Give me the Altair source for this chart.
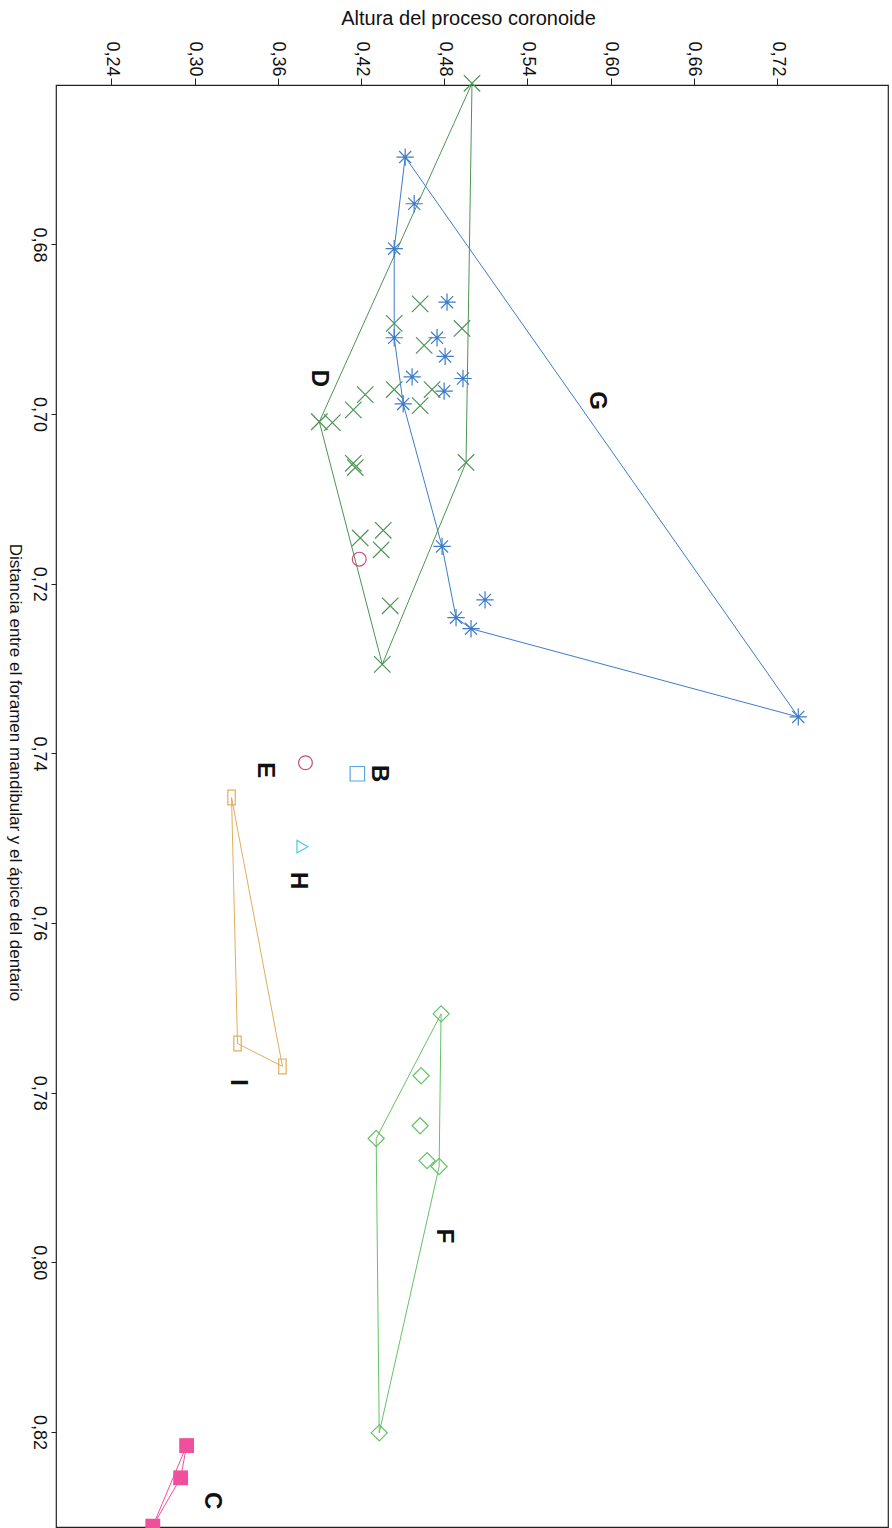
import altair as alt
import pandas as pd

# ---- data: altura del proceso coronoide (x) vs distancia foramen-ápice (y) ----
G_altura = [0.4518, 0.4583, 0.4439, 0.4820, 0.4439, 0.4748, 0.4806, 0.4568,
            0.4935, 0.4799, 0.4504, 0.4784, 0.5094, 0.4885, 0.4993, 0.7353]
G_dist = [0.6697, 0.6752, 0.6805, 0.6868, 0.6910, 0.6910, 0.6932, 0.6956,
          0.6958, 0.6973, 0.6988, 0.7156, 0.7219, 0.7240, 0.7253, 0.7357]
G_hull = [0, 15, 14, 13, 11, 10, 4, 2, 0]

D_altura = [0.5000, 0.4626, 0.4439, 0.4928, 0.4655, 0.4230, 0.4439, 0.4712,
            0.4626, 0.4144, 0.3899, 0.3993, 0.4144, 0.4158, 0.4957, 0.4194,
            0.4360, 0.4345, 0.4410, 0.4353]
D_dist = [0.6610, 0.6870, 0.6893, 0.6899, 0.6919, 0.6977, 0.6971, 0.6971,
          0.6990, 0.6995, 0.7009, 0.7010, 0.7058, 0.7063, 0.7057, 0.7146,
          0.7137, 0.7160, 0.7226, 0.7295]
D_hull = [0, 14, 19, 10, 0]

F_altura = [0.4777, 0.4633, 0.4626, 0.4309, 0.4676, 0.4763, 0.4331]
F_dist = [0.7707, 0.7780, 0.7839, 0.7854, 0.7880, 0.7887, 0.8201]
F_hull = [0, 5, 6, 3, 0]

I_altura = [0.3266, 0.3309, 0.3633]
I_dist = [0.7452, 0.7742, 0.7769]
I_hull = [0, 2, 1, 0]

C_altura = [0.2942, 0.2899, 0.2698]
C_dist = [0.8216, 0.8254, 0.8311]
C_hull = [0, 1, 2, 0]

E_altura = [0.4187, 0.3799]
E_dist = [0.7171, 0.7411]

B_altura = [0.4173]
B_dist = [0.7424]

H_altura = [0.3777]
H_dist = [0.7510]

# group letters and where they are written
label_text = ["G", "D", "B", "E", "H", "I", "F", "C"]
label_altura = [0.5899, 0.3899, 0.4331, 0.3504, 0.3748, 0.3309, 0.4799, 0.3122]
label_dist = [0.6984, 0.6958, 0.7424, 0.7420, 0.7550, 0.7788, 0.7969, 0.8281]

x_ticks = [0.24, 0.30, 0.36, 0.42, 0.48, 0.54, 0.60, 0.66, 0.72]
y_ticks = [0.68, 0.70, 0.72, 0.74, 0.76, 0.78, 0.80, 0.82]

# ---- marker glyphs ----
ASTER = "M-1,0L1,0M0,-1L0,1M-0.7,-0.7L0.7,0.7M-0.7,0.7L0.7,-0.7"
XMARK = "M-1,-1L1,1M-1,1L1,-1"
TALL_RECT = "M-0.5,-1L0.5,-1L0.5,1L-0.5,1Z"

groups = [
    dict(name="G", x=G_altura, y=G_dist, hull=G_hull, color="#3d7cc9",
         shape=ASTER, filled=False, size=300),
    dict(name="D", x=D_altura, y=D_dist, hull=D_hull, color="#4b9455",
         shape=XMARK, filled=False, size=270),
    dict(name="F", x=F_altura, y=F_dist, hull=F_hull, color="#66c266",
         shape="diamond", filled=False, size=260),
    dict(name="I", x=I_altura, y=I_dist, hull=I_hull, color="#e2ad5a",
         shape=TALL_RECT, filled=False, size=220),
    dict(name="C", x=C_altura, y=C_dist, hull=C_hull, color="#f04f9c",
         shape="square", filled=True, size=220),
    dict(name="E", x=E_altura, y=E_dist, hull=None, color="#c8507a",
         shape="circle", filled=False, size=190),
    dict(name="B", x=B_altura, y=B_dist, hull=None, color="#58a8e2",
         shape="square", filled=False, size=210),
    dict(name="H", x=H_altura, y=H_dist, hull=None, color="#4cccdf",
         shape="triangle-right", filled=False, size=160),
]

comma_fmt = "replace(format(datum.value, '.2f'), '.', ',')"

x_enc = alt.X(
    "x:Q",
    scale=alt.Scale(domain=[0.20, 0.80], nice=False, zero=False),
    axis=alt.Axis(
        orient="top", values=x_ticks, labelExpr=comma_fmt, grid=False,
        domain=False, tickSize=7, tickColor="#222", labelAngle=90,
        labelAlign="right", labelBaseline="middle", labelPadding=2,
        labelFontSize=18, title="Altura del proceso coronoide",
        titleFontSize=20, titleFontWeight="normal", titleX=412, titleY=-67,
        titleAlign="center", titleBaseline="middle", titleAngle=0,
    ),
)
y_enc = alt.Y(
    "y:Q",
    scale=alt.Scale(domain=[0.6612, 0.8312], reverse=True, nice=False, zero=False),
    axis=alt.Axis(
        orient="left", values=y_ticks, labelExpr=comma_fmt, grid=False,
        domain=False, tickSize=5, tickColor="#222", labelAngle=90,
        labelAlign="center", labelBaseline="top", labelPadding=4,
        labelFontSize=18,
        title="Distancia entre el foramen mandibular y el ápice del dentario",
        titleFontSize=17, titleFontWeight="normal", titleAngle=90,
        titleX=-42, titleY=687, titleAlign="center", titleBaseline="middle",
    ),
)

# hull outlines
hull_rows = []
for g in groups:
    if g["hull"]:
        for k, idx in enumerate(g["hull"]):
            hull_rows.append(dict(grp=g["name"], ord=k, x=g["x"][idx], y=g["y"][idx]))
hull_df = pd.DataFrame(hull_rows)
hull_names = [g["name"] for g in groups if g["hull"]]
hull_colors = [g["color"] for g in groups if g["hull"]]

hull_layer = alt.Chart(hull_df).mark_line(strokeWidth=1).encode(
    x=x_enc,
    y=y_enc,
    color=alt.Color("grp:N", scale=alt.Scale(domain=hull_names, range=hull_colors), legend=None),
    order="ord:Q",
)

layers = [hull_layer]
for g in groups:
    df = pd.DataFrame({"x": g["x"], "y": g["y"]})
    layers.append(
        alt.Chart(df).mark_point(
            shape=g["shape"], filled=g["filled"], size=g["size"],
            color=g["color"], strokeWidth=1.2, opacity=1,
        ).encode(x=x_enc, y=y_enc)
    )

lab_df = pd.DataFrame({"x": label_altura, "y": label_dist, "t": label_text})
layers.append(
    alt.Chart(lab_df).mark_text(
        angle=90, fontSize=24, fontWeight="bold", font="Liberation Sans",
        color="#111", align="center", baseline="middle",
    ).encode(x=x_enc, y=y_enc, text="t:N")
)

chart = alt.layer(*layers).properties(
    width=832,
    height=1442,
    autosize=alt.AutoSizeParams(type="none"),
    padding={"left": 56, "top": 85, "right": 4, "bottom": 1},
    background="white",
).configure_view(
    stroke="#222", strokeWidth=1.2,
).configure_axis(
    labelFont="Liberation Sans", titleFont="Liberation Sans",
    labelColor="#111", titleColor="#111",
)

chart.save("out.html", embed_options={"renderer": "svg", "actions": False})
